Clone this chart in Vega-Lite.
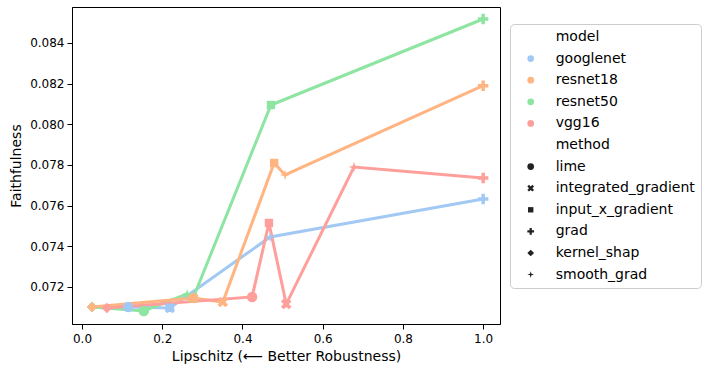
{
  "$schema": "https://vega.github.io/schema/vega-lite/v6.json",
  "width": 428,
  "height": 317,
  "autosize": {"type": "none"},
  "padding": {"left": 72, "top": 7, "right": 206, "bottom": 47},
  "background": "white",
  "config": {
    "font": "DejaVu Sans",
    "view": {"stroke": "black", "strokeWidth": 1},
    "axis": {
      "grid": false,
      "domainColor": "black",
      "tickColor": "black",
      "tickSize": 5,
      "labelFontSize": 12,
      "labelColor": "black",
      "labelPadding": 3,
      "titleFontSize": 14,
      "titleFontWeight": "normal",
      "titleColor": "black"
    },
    "legend": {
      "labelFontSize": 14,
      "labelColor": "black",
      "labelLimit": 300,
      "rowPadding": 7.6,
      "padding": 6,
      "strokeColor": "#cccccc",
      "fillColor": "white",
      "cornerRadius": 4
    }
  },
  "data": {
    "values": [
      {"model": "googlenet", "method": "kernel_shap", "lipschitz": 0.025, "faithfulness": 0.07102},
      {"model": "googlenet", "method": "input_x_gradient", "lipschitz": 0.219, "faithfulness": 0.07097},
      {"model": "resnet50", "method": "kernel_shap", "lipschitz": 0.025, "faithfulness": 0.07102},
      {"model": "resnet50", "method": "integrated_gradient", "lipschitz": 0.277, "faithfulness": 0.07146},
      {"model": "googlenet", "method": "lime", "lipschitz": 0.115, "faithfulness": 0.07102},
      {"model": "googlenet", "method": "integrated_gradient", "lipschitz": 0.219, "faithfulness": 0.07097},
      {"model": "googlenet", "method": "smooth_grad", "lipschitz": 0.469, "faithfulness": 0.07446},
      {"model": "googlenet", "method": "grad", "lipschitz": 1.0, "faithfulness": 0.07633},
      {"model": "resnet18", "method": "kernel_shap", "lipschitz": 0.025, "faithfulness": 0.07102},
      {"model": "resnet18", "method": "lime", "lipschitz": 0.277, "faithfulness": 0.07146},
      {"model": "resnet18", "method": "integrated_gradient", "lipschitz": 0.351, "faithfulness": 0.07126},
      {"model": "resnet18", "method": "input_x_gradient", "lipschitz": 0.479, "faithfulness": 0.0781},
      {"model": "resnet18", "method": "smooth_grad", "lipschitz": 0.506, "faithfulness": 0.07751},
      {"model": "resnet18", "method": "grad", "lipschitz": 1.0, "faithfulness": 0.0819},
      {"model": "resnet50", "method": "lime", "lipschitz": 0.154, "faithfulness": 0.07082},
      {"model": "resnet50", "method": "smooth_grad", "lipschitz": 0.262, "faithfulness": 0.07166},
      {"model": "resnet50", "method": "input_x_gradient", "lipschitz": 0.471, "faithfulness": 0.08095},
      {"model": "resnet50", "method": "grad", "lipschitz": 1.0, "faithfulness": 0.08518},
      {"model": "vgg16", "method": "kernel_shap", "lipschitz": 0.062, "faithfulness": 0.07097},
      {"model": "vgg16", "method": "lime", "lipschitz": 0.424, "faithfulness": 0.07151},
      {"model": "vgg16", "method": "input_x_gradient", "lipschitz": 0.466, "faithfulness": 0.07515},
      {"model": "vgg16", "method": "integrated_gradient", "lipschitz": 0.509, "faithfulness": 0.07116},
      {"model": "vgg16", "method": "smooth_grad", "lipschitz": 0.678, "faithfulness": 0.0779},
      {"model": "vgg16", "method": "grad", "lipschitz": 1.0, "faithfulness": 0.07736}
    ]
  },
  "encoding": {
    "x": {
      "field": "lipschitz",
      "type": "quantitative",
      "scale": {"domain": [-0.025, 1.042], "nice": false, "zero": false},
      "axis": {"values": [0, 0.2, 0.4, 0.6, 0.8, 1.0], "format": ".1f", "title": "Lipschitz (⟵ Better Robustness)", "titlePadding": 5, "labelPadding": 4}
    },
    "y": {
      "field": "faithfulness",
      "type": "quantitative",
      "scale": {"domain": [0.07018, 0.08577], "nice": false, "zero": false},
      "axis": {"values": [0.072, 0.074, 0.076, 0.078, 0.08, 0.082, 0.084], "format": ".3f", "title": "Faithfulness", "titlePadding": 6}
    },
    "color": {
      "field": "model",
      "type": "nominal",
      "scale": {"domain": ["googlenet", "resnet18", "resnet50", "vgg16"], "range": ["#a1c9f4", "#ffb482", "#8de5a1", "#ff9f9b"]},
      "legend": null
    },
    "shape": {
      "field": "method",
      "type": "nominal",
      "scale": {
        "domain": ["model", "googlenet", "resnet18", "resnet50", "vgg16", "method", "lime", "integrated_gradient", "input_x_gradient", "grad", "kernel_shap", "smooth_grad"],
        "range": [
          "circle", "circle", "circle", "circle", "circle", "circle",
          "circle",
          "M-1,-0.5L-0.5,-1L0,-0.5L0.5,-1L1,-0.5L0.5,0L1,0.5L0.5,1L0,0.5L-0.5,1L-1,0.5L-0.5,0Z",
          "M-0.8,-0.8L0.8,-0.8L0.8,0.8L-0.8,0.8Z",
          "M-0.333,-1L0.333,-1L0.333,-0.333L1,-0.333L1,0.333L0.333,0.333L0.333,1L-0.333,1L-0.333,0.333L-1,0.333L-1,-0.333L-0.333,-0.333Z",
          "diamond",
          "M0,-1L0.22,-0.22L1,0L0.22,0.22L0,1L-0.22,0.22L-1,0L-0.22,-0.22Z"
        ]
      },
      "legend": {
        "title": null,
        "orient": "none",
        "legendX": 438,
        "legendY": 17,
        "symbolSize": 45,
        "symbolOffset": 7.7,
        "labelOffset": 18,
        "symbolStrokeWidth": 0,
        "symbolFillColor": {"expr": "datum.value === 'googlenet' ? '#a1c9f4' : datum.value === 'resnet18' ? '#ffb482' : datum.value === 'resnet50' ? '#8de5a1' : datum.value === 'vgg16' ? '#ff9f9b' : '#222222'"},
        "symbolOpacity": {"expr": "datum.value === 'model' || datum.value === 'method' ? 0 : 1"}
      }
    }
  },
  "layer": [
    {
      "mark": {"type": "line", "strokeWidth": 3},
      "encoding": {"order": {"field": "lipschitz", "type": "quantitative"}}
    },
    {
      "mark": {"type": "point", "filled": true, "opacity": 1, "size": 110}
    }
  ]
}
